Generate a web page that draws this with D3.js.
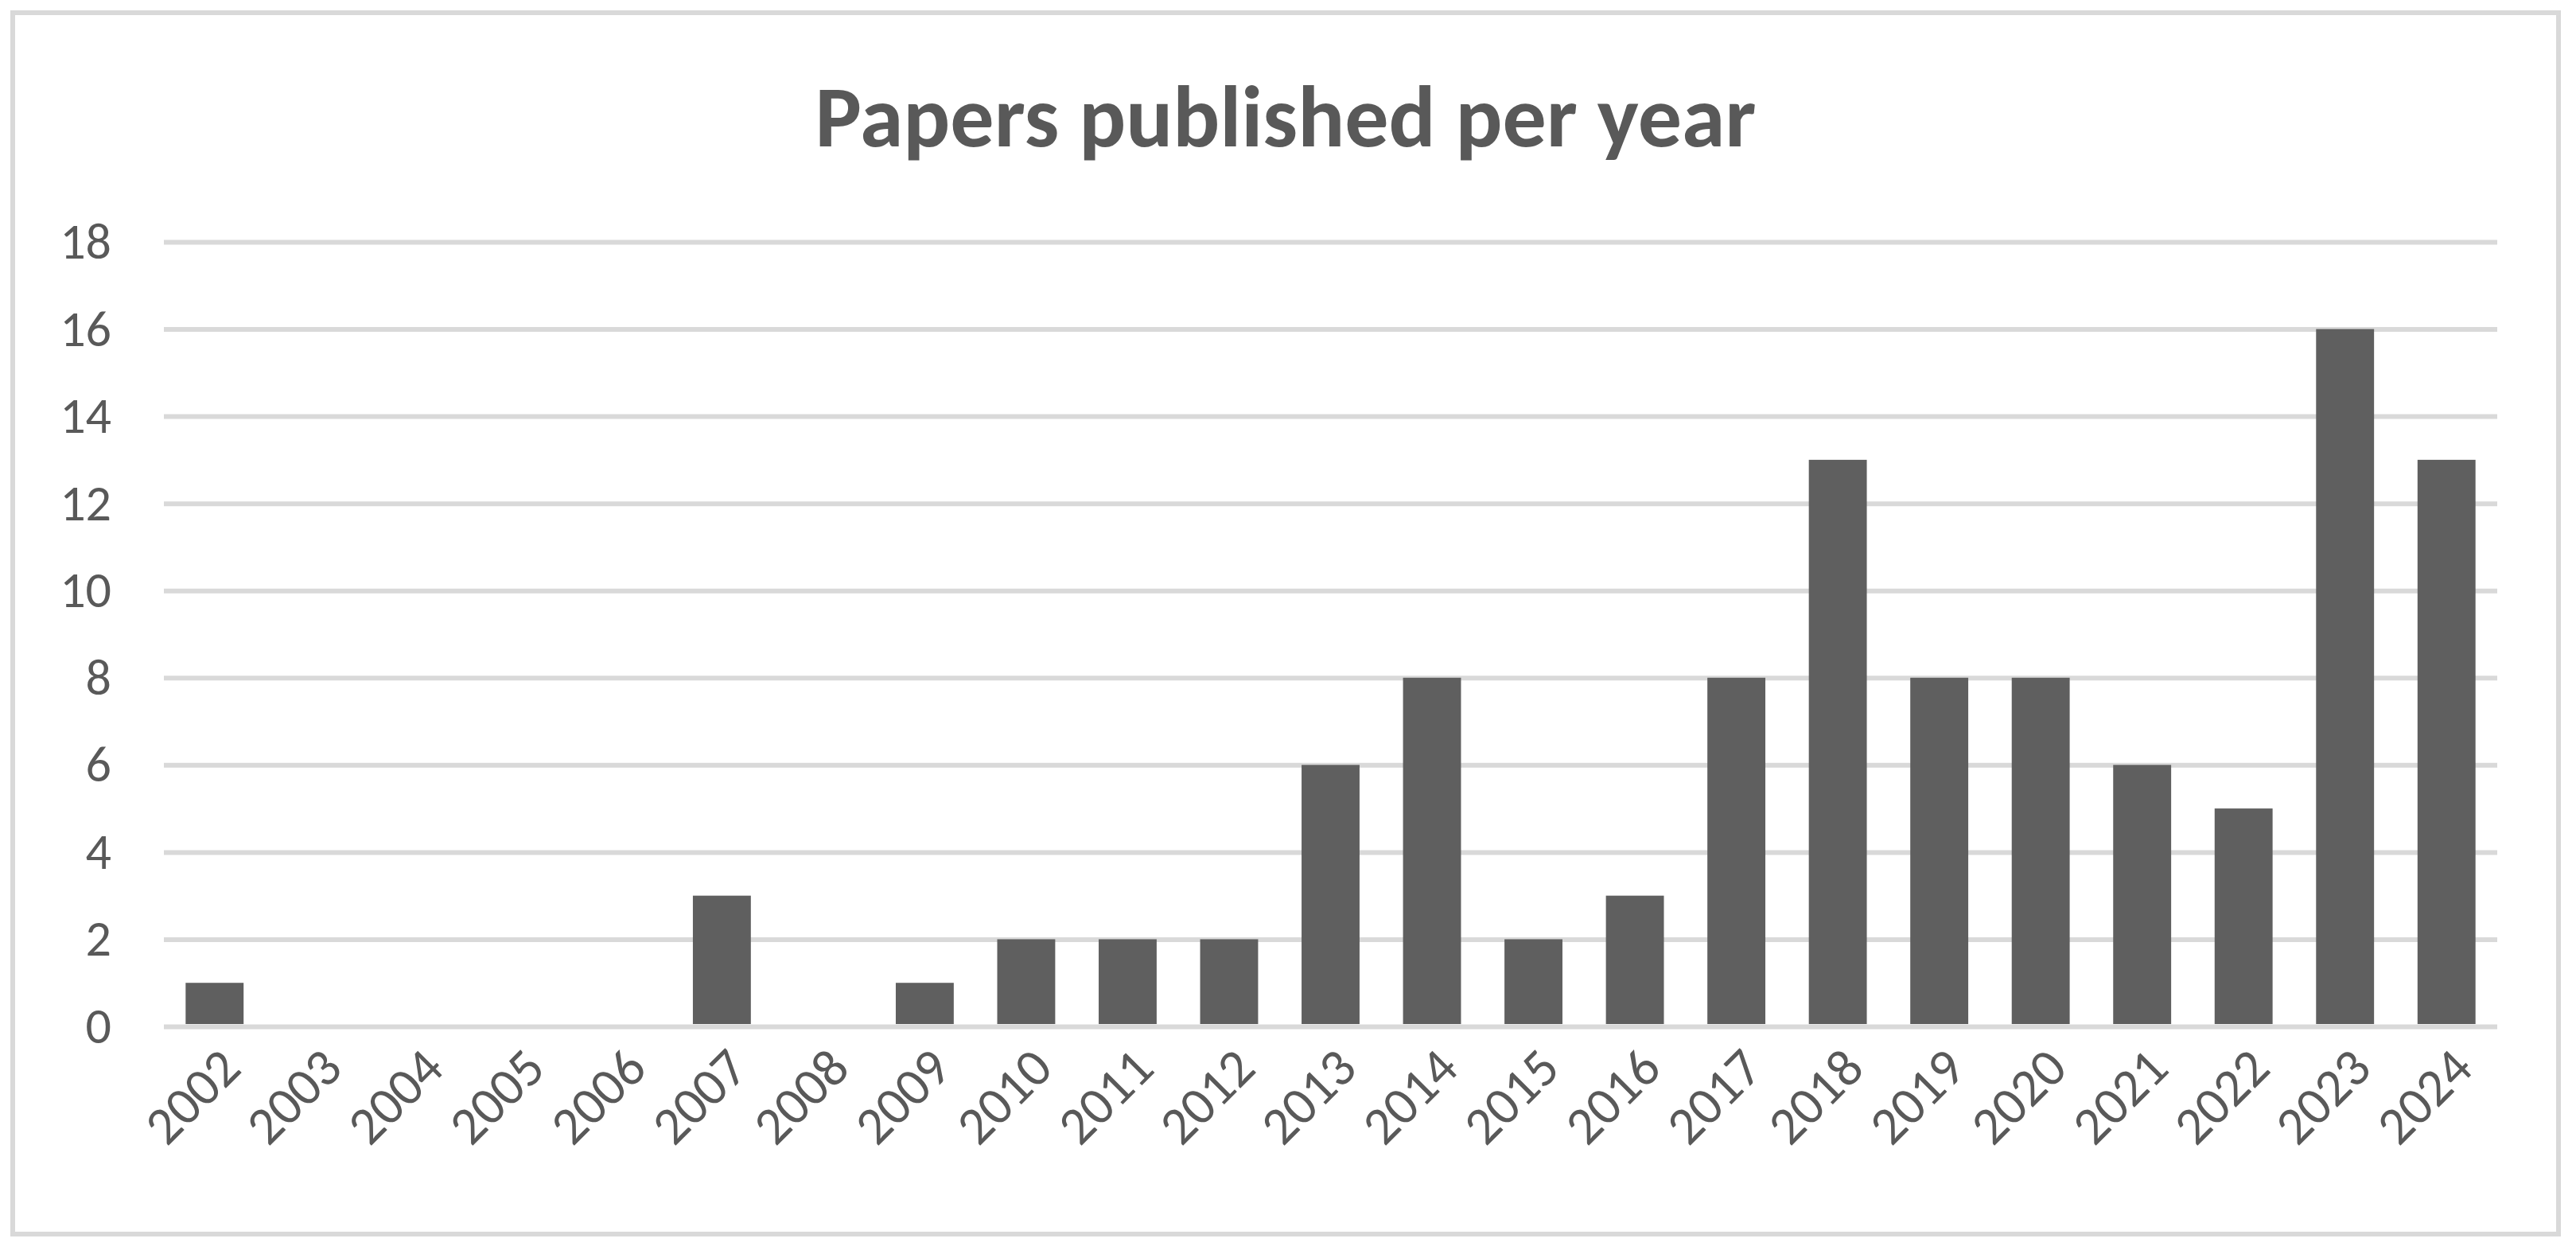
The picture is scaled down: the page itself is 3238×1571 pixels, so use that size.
<!DOCTYPE html>
<html>
<head>
<meta charset="utf-8">
<script src="https://cdn.jsdelivr.net/npm/d3@7"></script>
<style>
    html, body { margin: 0; padding: 0; background: #fff; }
    svg { display: block; }
</style>
</head>
<body>
<div id="chart"></div>
<script>
// Data
const years = ['2002', '2003', '2004', '2005', '2006', '2007', '2008', '2009', '2010', '2011', '2012',
    '2013', '2014', '2015', '2016', '2017', '2018', '2019', '2020', '2021', '2022', '2023', '2024'];
const papers = [1, 0, 0, 0, 0, 3, 0, 1, 2, 2, 2, 6, 8, 2, 3, 8, 13, 8, 8, 6, 5, 16, 13];
const yTicks = [0, 2, 4, 6, 8, 10, 12, 14, 16, 18];
const title = 'Papers published per year';

const width = 3238;
const height = 1571;
const font = 'Carlito, Calibri, Lato, sans-serif';
const textColor = '#595959';
const gridColor = '#d9d9d9';
const barColor = '#5f5f5f';

const plot = { left: 206, right: 3139, top: 304, bottom: 1290 };

const svg = d3.select('#chart')
    .append('svg')
    .attr('width', width)
    .attr('height', height);

// Chart area border
svg.append('rect')
    .attr('x', 16)
    .attr('y', 16)
    .attr('width', 3200)
    .attr('height', 1535)
    .attr('fill', '#fff')
    .attr('stroke', gridColor)
    .attr('stroke-width', 6);

// Title
svg.append('text')
    .attr('x', 1616)
    .attr('y', 184)
    .attr('text-anchor', 'middle')
    .style('font-family', font)
    .style('font-size', '110px')
    .style('font-weight', '700')
    .style('fill', textColor)
    .text(title);

const x = d3.scaleBand()
    .domain(years)
    .range([plot.left, plot.right])
    .paddingInner(0.75 / 1.75)
    .paddingOuter(0.75 / 3.5);

const y = d3.scaleLinear()
    .domain([0, 18])
    .range([plot.bottom, plot.top]);

// Gridlines + y labels
const yAxis = d3.axisLeft(y)
    .tickValues(yTicks)
    .tickSize(-(plot.right - plot.left))
    .tickPadding(66);

const yg = svg.append('g')
    .attr('transform', `translate(${plot.left},0)`)
    .call(yAxis);
yg.select('.domain').remove();
yg.selectAll('.tick line')
    .attr('stroke', gridColor)
    .attr('stroke-width', 6);
yg.selectAll('.tick text')
    .style('font-family', font)
    .style('font-size', '64px')
    .style('fill', textColor);

// Bars
svg.append('g')
    .selectAll('rect')
    .data(years.map((yr, i) => ({ yr, v: papers[i] })))
    .enter()
    .append('rect')
    .attr('x', d => x(d.yr))
    .attr('width', x.bandwidth())
    .attr('y', d => y(d.v))
    .attr('height', d => y(0) - 3 - y(d.v))
    .attr('fill', barColor)
    .attr('display', d => d.v > 0 ? null : 'none');

// X labels, rotated
const xAxis = d3.axisBottom(x).tickSize(0).tickPadding(0);
const xg = svg.append('g')
    .attr('transform', `translate(0,${plot.bottom})`)
    .call(xAxis);
xg.select('.domain').remove();
xg.selectAll('.tick text')
    .attr('y', 0)
    .attr('dy', 0)
    .attr('text-anchor', 'end')
    .attr('transform', 'translate(36,56) rotate(-45)')
    .style('font-family', font)
    .style('font-size', '67px')
    .style('fill', textColor);
</script>
</body>
</html>
